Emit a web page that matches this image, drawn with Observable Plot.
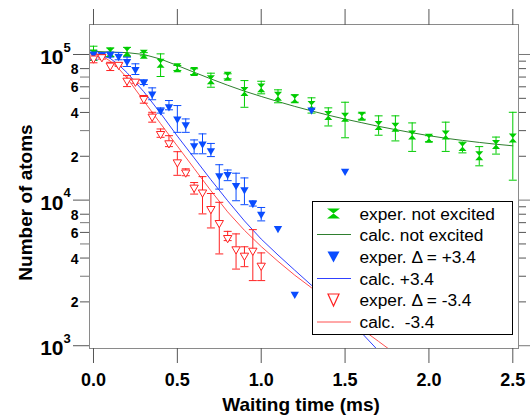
<!DOCTYPE html>
<html>
<head>
<meta charset="utf-8">
<script src="https://cdn.jsdelivr.net/npm/d3@7"></script>
<script src="https://cdn.jsdelivr.net/npm/@observablehq/plot@0.6"></script>
<style>
  html, body { margin: 0; padding: 0; background: white; }
  #wrap { position: relative; width: 530px; height: 417px; }
  #legend { position: absolute; left: 312px; top: 201px; }
</style>
</head>
<body>
<div id="wrap"></div>
<script>
// ---------- data ----------
const greenT = [0,0.1,0.2,0.3,0.4,0.5,0.6,0.7,0.8,0.9,1.0,1.1,1.2,1.3,1.4,1.5,1.6,1.7,1.8,1.9,2.0,2.1,2.2,2.3,2.4,2.5];
const greenN = [101000,103700,105000,100500,87000,81000,76400,67000,71000,55700,59000,51700,49600,44600,38100,37100,37700,32500,31700,28000,26600,28000,23300,20200,24100,26700];
const greenLo = [91000,97000,97000,98000,70600,77600,72900,59600,68000,43400,53700,46600,47000,39600,32300,26800,35900,27900,25500,21600,25200,21600,21100,17200,20700,13700];
const greenHi = [114000,111000,112000,103000,101000,84000,79800,74400,73700,66200,65500,57200,52800,50400,43000,47000,39600,37900,37900,33900,27700,34300,25000,23300,27100,40100];

const blueT = [0,0.05,0.1,0.15,0.2,0.25,0.3,0.35,0.4,0.45,0.5,0.55,0.6,0.65,0.7,0.75,0.8,0.85,0.9,0.95,1.0,1.1,1.2,1.3,1.5];
const blueN = [101000,99500,100000,97000,89500,79000,64500,53700,41200,43900,36100,33000,23700,24300,21900,14700,15000,12600,11800,9500,8000,6400,2260,41700,15800];
const blueLo = [92000,96000,96000,92000,82700,72900,62200,48900,39600,41700,29200,29200,20800,20800,19900,11900,13600,9900,9300,9100,7200,null,null,null,null];
const blueHi = [106500,103000,104000,103000,95900,86300,67000,59000,43000,48300,44600,36100,25900,28500,24500,17500,16100,15300,14200,9900,8900,null,null,null,null];

const redT = [0,0.05,0.1,0.15,0.2,0.25,0.3,0.35,0.4,0.45,0.5,0.55,0.6,0.65,0.7,0.75,0.8,0.85,0.9,0.95,1.0];
const redN = [94000,96000,84000,85000,66200,65200,49600,37500,28500,24600,18200,15500,12200,11300,8700,6970,5500,4600,4160,4500,3550];
const redLo = [87700,93000,77600,83000,60200,63500,46300,34300,27000,23300,14800,14700,11000,8040,6440,4270,5270,3360,3490,2800,2800];
const redHi = [101000,100000,88400,86500,71700,66500,52300,40100,30800,27700,21500,16400,13200,14500,11100,9660,6100,5860,4780,6270,4340];

const greenCalcT = [0,0.1,0.2,0.3,0.4,0.5,0.6,0.7,0.8,0.9,1.0,1.1,1.2,1.3,1.4,1.5,1.6,1.7,1.8,1.9,2.0,2.1,2.2,2.3,2.4,2.5];
const greenCalcN = [105000,104000,103000,100000,93000,84000,75500,68000,61500,56000,51500,47500,44000,41000,38300,36000,34000,32100,30500,29000,27700,26600,25700,24900,24200,23600];

const blueCalcT = [0,0.05,0.1,0.15,0.2,0.3,0.4,0.5,0.6,0.7,0.8,0.9,1.0,1.1,1.2,1.3,1.4,1.5,1.6,1.7];
const blueCalcN = [101000,99000,94000,85000,75000,55500,39500,27500,19500,13800,9900,7200,5400,4200,3300,2600,2050,1600,1220,920];

const redCalcT = [0,0.05,0.1,0.15,0.2,0.3,0.4,0.5,0.6,0.7,0.8,0.9,1.0,1.1,1.2,1.3,1.4,1.5,1.6,1.7,1.8];
const redCalcN = [101000,98000,90000,80000,69000,48000,33500,23500,16500,11600,8300,6200,4800,3800,3050,2500,2000,1620,1300,1070,880];

// ticks and labels
const xTicks = [0,0.5,1.0,1.5,2.0,2.5];
const xTickLabels = ["0.0","0.5","1.0","1.5","2.0","2.5"];
const yMajorTicks = [1000,10000,100000];
const yMajorBase = ["10","10","10"];
const yMajorExp = ["3","4","5"];
const yLabeledMinor = [2000,4000,6000,8000,20000,40000,60000,80000];
const yLabeledMinorText = ["2","4","6","8","2","4","6","8"];
const yUnlabeledMinor = [3000,5000,7000,30000,50000,70000];
const yRightMinor = [2000,3000,4000,5000,6000,7000,8000,9000,20000,30000,40000,50000,60000,70000,80000,90000];

const xLabel = "Waiting time (ms)";
const yLabel = "Number of atoms";
const legendLabels = ["exper. not excited","calc. not excited","exper. \u0394 = +3.4","calc. +3.4","exper. \u0394 = -3.4","calc.  -3.4"];

// colors
const cGreen = "#00cc00", cGreenLine = "#2f7f2f";
const cBlue = "#0a4cff", cBlueLine = "#3040ff";
const cRed = "#ff2222", cRedLine = "#ff5050";

// ---------- build tables ----------
const rows = (T, N, Lo, Hi) => T.map((t, i) => ({t, n: N[i], lo: Lo ? Lo[i] : null, hi: Hi ? Hi[i] : null}));
const green = rows(greenT, greenN, greenLo, greenHi);
const blue = rows(blueT, blueN, blueLo, blueHi);
const red = rows(redT, redN, redLo, redHi);
const greenCalc = rows(greenCalcT, greenCalcN);
const blueCalc = rows(blueCalcT, blueCalcN);
const redCalc = rows(redCalcT, redCalcN);

const hourglass = {draw(ctx, size) { const w = Math.sqrt(size) * 0.5; ctx.moveTo(-w, -w - 0.5); ctx.lineTo(w, -w - 0.5); ctx.lineTo(-w, w + 0.5); ctx.lineTo(w, w + 0.5); ctx.closePath(); }};
const cap = {draw(ctx, size) { const w = Math.sqrt(size) * 0.5; ctx.moveTo(-w, 0); ctx.lineTo(w, 0); }};

function errorBars(data, color) {
  const d = data.filter(r => r.lo != null && r.hi != null);
  return [
    Plot.ruleX(d, {x: "t", y1: "lo", y2: "hi", stroke: color, strokeWidth: 1, clip: true}),
    Plot.dot(d, {x: "t", y: "lo", symbol: cap, r: 4.5, fill: "none", stroke: color, strokeWidth: 1, clip: true}),
    Plot.dot(d, {x: "t", y: "hi", symbol: cap, r: 4.5, fill: "none", stroke: color, strokeWidth: 1, clip: true})
  ];
}

const font = "'Liberation Sans', Arial, Helvetica, sans-serif";

const chart = Plot.plot({
  width: 530,
  height: 417,
  marginLeft: 89,
  marginRight: 12,
  marginTop: 24,
  marginBottom: 69,
  x: {domain: [-0.0238, 2.534]},
  y: {type: "log", domain: [957, 160700]},
  style: {fontFamily: font, background: "white", color: "black", overflow: "visible"},
  marks: [
    // lines
    Plot.line(greenCalc, {x: "t", y: "n", stroke: cGreenLine, strokeWidth: 1, clip: true}),
    Plot.line(blueCalc, {x: "t", y: "n", stroke: cBlueLine, strokeWidth: 1, clip: true}),
    Plot.line(redCalc, {x: "t", y: "n", stroke: cRedLine, strokeWidth: 1, clip: true}),
    // error bars
    ...errorBars(green, cGreen),
    ...errorBars(blue, cBlue),
    ...errorBars(red, cRed),
    // markers
    Plot.dot(green, {x: "t", y: "n", symbol: hourglass, r: 4.5, fill: cGreen, stroke: "none", clip: true}),
    Plot.dot(blue, {x: "t", y: "n", symbol: "triangle", rotate: 180, r: 3.1, fill: cBlue, stroke: "none", clip: true}),
    Plot.dot(red, {x: "t", y: "n", symbol: "triangle", rotate: 180, r: 3.1, fill: "white", stroke: cRed, strokeWidth: 1, clip: true}),
    // frame
    Plot.frame({stroke: "#8a8a8a", strokeWidth: 1}),
    // x axes
    Plot.axisX(xTicks, {anchor: "bottom", tickSize: 15, tickPadding: 10, stroke: "#555",
      tickFormat: d => xTickLabels[xTicks.indexOf(d)], fontSize: 18, fontWeight: "bold", label: null}),
    Plot.axisX(xTicks, {anchor: "top", tickSize: 16, stroke: "#555", tickFormat: () => "", label: null}),
    // left y axis
    Plot.axisY(yMajorTicks, {anchor: "left", tickSize: 16, stroke: "#555", tickFormat: () => "", label: null}),
    Plot.axisY(yLabeledMinor, {anchor: "left", tickSize: 9, stroke: "#555", tickFormat: () => "", label: null}),
    Plot.axisY(yUnlabeledMinor, {anchor: "left", tickSize: 9, stroke: "#777", tickFormat: () => "", label: null}),
    // right y axis
    Plot.axisY(yMajorTicks, {anchor: "right", tickSize: 12, stroke: "#777", tickFormat: () => "", label: null}),
    Plot.axisY(yRightMinor, {anchor: "right", tickSize: 7, stroke: "#555", tickFormat: () => "", label: null}),
    // minor tick labels
    Plot.text(yLabeledMinor, {y: d => d, frameAnchor: "left", text: (d, i) => yLabeledMinorText[i], textAnchor: "end",
      lineAnchor: "middle", dx: -11, dy: 1, fontSize: 14, fontWeight: "bold"}),
    // powers of ten labels
    Plot.text(yMajorTicks, {y: d => d, frameAnchor: "left", text: (d, i) => yMajorBase[i], textAnchor: "end",
      lineAnchor: "middle", dx: -26, dy: 3, fontSize: 21, fontWeight: "bold"}),
    Plot.text(yMajorTicks, {y: d => d, frameAnchor: "left", text: (d, i) => yMajorExp[i], textAnchor: "start",
      lineAnchor: "middle", dx: -26, dy: -7, fontSize: 13, fontWeight: "bold"}),
    // axis titles
    Plot.text([xLabel], {frameAnchor: "bottom", dx: -3, dy: 56, lineAnchor: "middle", textAnchor: "middle", fontSize: 19, fontWeight: "bold"}),
    Plot.text([yLabel], {frameAnchor: "left", dx: -64, dy: 16, rotate: -90, lineAnchor: "middle", textAnchor: "middle", fontSize: 19, fontWeight: "bold"})
  ]
});

const wrap = document.getElementById("wrap");
wrap.appendChild(chart);

// ---------- legend (overlay) ----------
const ns = "http://www.w3.org/2000/svg";
const leg = document.createElementNS(ns, "svg");
leg.setAttribute("id", "legend");
leg.setAttribute("width", 201);
leg.setAttribute("height", 134);
const rowY = [12.5, 33.5, 56, 77.5, 99, 121];
let inner = `<rect x="0.5" y="0.5" width="200" height="133" fill="white" stroke="black" stroke-width="1"/>`;
inner += `<path d="M15 ${rowY[0]-5} H28 L15 ${rowY[0]+5} H28 Z" fill="${cGreen}"/>`;
inner += `<line x1="5" x2="39" y1="${rowY[1]}" y2="${rowY[1]}" stroke="${cGreenLine}" stroke-width="1"/>`;
inner += `<path d="M15.5 ${rowY[2]-5.5} H27.5 L21.5 ${rowY[2]+5.5} Z" fill="${cBlue}"/>`;
inner += `<line x1="5" x2="39" y1="${rowY[3]}" y2="${rowY[3]}" stroke="${cBlueLine}" stroke-width="1"/>`;
inner += `<path d="M16 ${rowY[4]-6} H27 L21.5 ${rowY[4]+6} Z" fill="white" stroke="${cRed}" stroke-width="1.2"/>`;
inner += `<line x1="5" x2="39" y1="${rowY[5]}" y2="${rowY[5]}" stroke="${cRedLine}" stroke-width="1"/>`;
legendLabels.forEach((s, i) => {
  inner += `<text x="47.5" y="${rowY[i] + 6}" font-family="${font.replace(/'/g, "&apos;")}" font-size="17.3" fill="black" style="white-space:pre">${s}</text>`;
});
leg.innerHTML = inner;
wrap.appendChild(leg);
</script>
</body>
</html>
